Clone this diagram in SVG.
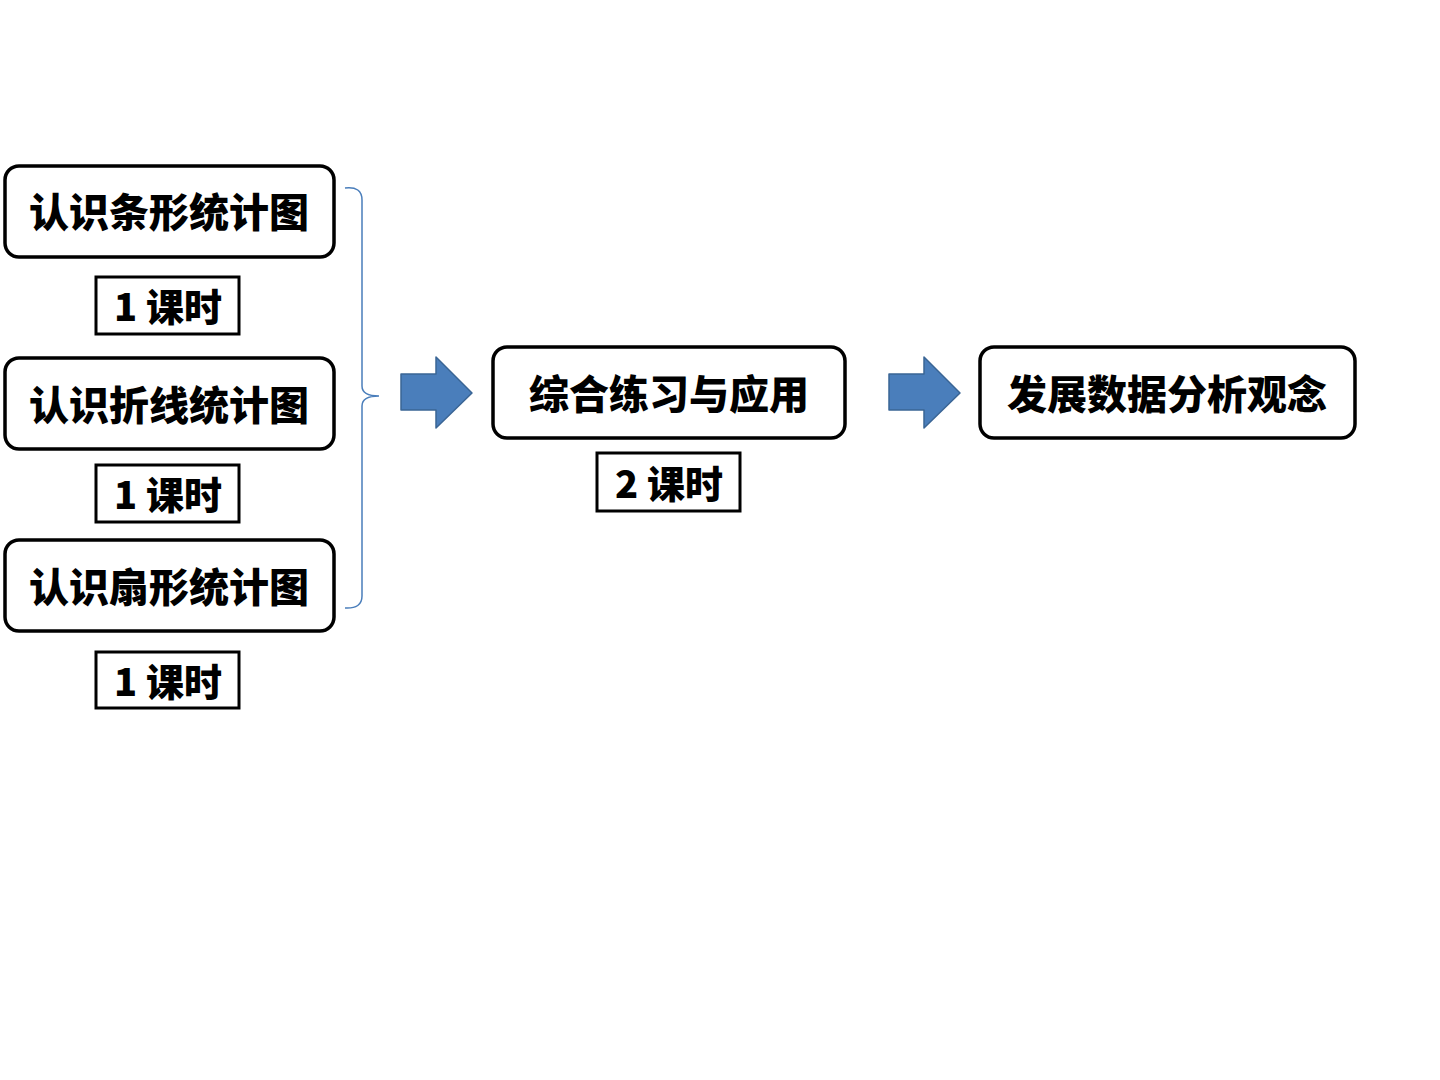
<svg xmlns="http://www.w3.org/2000/svg" width="1440" height="1080" viewBox="0 0 1440 1080">
<style>
.node{fill:#fff;stroke:#000;stroke-width:3.5}
.tag{fill:#fff;stroke:#000;stroke-width:3}
.t{font-family:"Noto Sans CJK SC","Noto Sans",sans-serif;font-weight:900;font-size:40px;fill:#000;text-anchor:middle;dominant-baseline:central}
.s{font-family:"Noto Sans CJK SC","Noto Sans",sans-serif;font-weight:900;font-size:38px;fill:#000;text-anchor:middle;dominant-baseline:central}
.arrow{fill:#4a7ebb;stroke:#3a6595;stroke-width:1.5;stroke-linejoin:round}
.brace{fill:none;stroke:#4a7ebb;stroke-width:1.5}
</style>
<rect width="1440" height="1080" fill="#fff"/>
<g id="connectors">
<path class="brace" d="M345,188 Q362,186 362,200 L362,386 Q362,396 379,396 Q362,396 362,406 L362,596 Q362,609 345,608"/>
<path class="arrow" d="M401,374 L436,374 L436,357 L472,393 L436,428 L436,410 L401,410 Z"/>
<path class="arrow" d="M889,374 L924,374 L924,357 L960,393 L924,428 L924,410 L889,410 Z"/>
</g>
<g id="node1"><rect class="node" x="5" y="166" width="329" height="91" rx="14"/><text class="t" x="169" y="210">认识条形统计图</text></g>
<g id="tag1"><rect class="tag" x="96" y="277" width="143" height="57"/><text class="s" x="168" y="304">1 课时</text></g>
<g id="node2"><rect class="node" x="5" y="358" width="329" height="91" rx="14"/><text class="t" x="169" y="403">认识折线统计图</text></g>
<g id="tag2"><rect class="tag" x="96" y="465" width="143" height="57"/><text class="s" x="168" y="492">1 课时</text></g>
<g id="node3"><rect class="node" x="5" y="540" width="329" height="91" rx="14"/><text class="t" x="169" y="585">认识扇形统计图</text></g>
<g id="tag3"><rect class="tag" x="96" y="652" width="143" height="56"/><text class="s" x="168" y="679">1 课时</text></g>
<g id="node4"><rect class="node" x="493" y="347" width="352" height="91" rx="14"/><text class="t" x="669" y="392">综合练习与应用</text></g>
<g id="tag4"><rect class="tag" x="597" y="453" width="143" height="58"/><text class="s" x="669" y="481">2 课时</text></g>
<g id="node5"><rect class="node" x="980" y="347" width="375" height="91" rx="14"/><text class="t" x="1167" y="392">发展数据分析观念</text></g>
</svg>
